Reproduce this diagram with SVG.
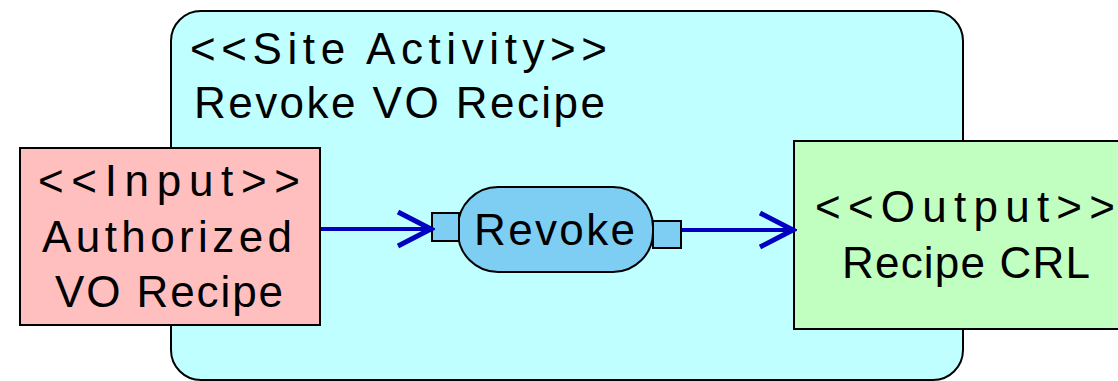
<svg xmlns="http://www.w3.org/2000/svg" width="1118" height="381" viewBox="0 0 1118 381">
  <style>
    .lbl { font-family: "Liberation Sans", Arial, sans-serif; font-size: 44px; fill: #000; }
    .box { stroke: #000; stroke-width: 2; }
    .flow { stroke: #0000c0; stroke-width: 4; fill: none; }
  </style>
  <defs>
    <marker id="open-arrow" markerUnits="userSpaceOnUse" markerWidth="40" markerHeight="40" viewBox="-36 -20 40 40" refX="0" refY="0" orient="auto">
      <path d="M -33 -17 L 0 0 L -33 17" fill="none" stroke="#0000c0" stroke-width="5"/>
    </marker>
  </defs>

  <!-- activity frame -->
  <g id="site-activity">
    <rect class="box" x="171" y="11" width="792" height="369" rx="30" ry="30" fill="#bfffff"/>
    <text class="lbl" x="190" y="64" textLength="417" lengthAdjust="spacing">&lt;&lt;Site Activity&gt;&gt;</text>
    <text class="lbl" x="194" y="118" textLength="411" lengthAdjust="spacing">Revoke VO Recipe</text>
  </g>

  <!-- input object -->
  <g id="input">
    <rect class="box" x="20" y="148" width="300" height="177" fill="#ffbfbf"/>
    <text class="lbl" x="38" y="196" textLength="262" lengthAdjust="spacing">&lt;&lt;Input&gt;&gt;</text>
    <text class="lbl" x="42" y="252" textLength="250" lengthAdjust="spacing">Authorized</text>
    <text class="lbl" x="55" y="307" textLength="228" lengthAdjust="spacing">VO Recipe</text>
  </g>

  <!-- action with its pins -->
  <g id="revoke">
    <rect class="box" x="458" y="187" width="195" height="85" rx="40" ry="40" fill="#7ecef4"/>
    <rect class="box" x="432" y="213" width="27" height="28" fill="#7ecef4"/>
    <rect class="box" x="653" y="221" width="28" height="27" fill="#7ecef4"/>
    <text class="lbl" x="474" y="245" textLength="161" lengthAdjust="spacing">Revoke</text>
  </g>

  <!-- output object -->
  <g id="output">
    <rect class="box" x="794" y="141" width="330" height="188" fill="#c0ffc0"/>
    <text class="lbl" x="815" y="222" textLength="300" lengthAdjust="spacing">&lt;&lt;Output&gt;&gt;</text>
    <text class="lbl" x="842" y="278" textLength="248" lengthAdjust="spacing">Recipe CRL</text>
  </g>

  <!-- object flows -->
  <g id="connectors">
    <line class="flow" x1="321" y1="229" x2="431" y2="229" marker-end="url(#open-arrow)"/>
    <line class="flow" x1="682" y1="230" x2="793" y2="230" marker-end="url(#open-arrow)"/>
  </g>
</svg>
